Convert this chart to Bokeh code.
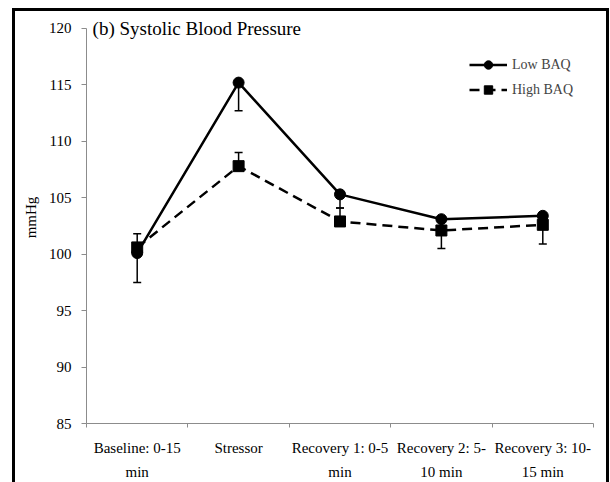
from bokeh.plotting import figure
from bokeh.models import (Range1d, FixedTicker, Whisker, TeeHead, ColumnDataSource,
                          Legend, LegendItem, Label)
from bokeh.embed import file_html
from bokeh.resources import INLINE

# ---- data ----
categories = ["Baseline: 0-15\nmin", "Stressor", "Recovery 1: 0-5\nmin",
              "Recovery 2: 5-\n10 min", "Recovery 3: 10-\n15 min"]
low_baq = [100.1, 115.2, 105.3, 103.1, 103.4]
low_err_minus = [2.6, 2.5, 1.2, 2.6, 2.5]
high_baq = [100.6, 107.8, 102.9, 102.1, 102.6]
high_err_plus = [1.2, 1.2, 1.2, 1.2, 1.0]
y_ticks = [85, 90, 95, 100, 105, 110, 115, 120]
title_text = "(b) Systolic Blood Pressure"
y_label = "mmHg"
series_names = ["Low BAQ", "High BAQ"]

FONT = "Liberation Serif"

xs = [i + 0.5 for i in range(len(categories))]
boundaries = list(range(len(categories) + 1))

p = figure(width=610, height=482, output_backend="svg", toolbar_location=None,
           x_range=Range1d(0, len(categories)), y_range=Range1d(y_ticks[0], y_ticks[-1] + 1.5),
           min_border_left=86, min_border_right=17, min_border_top=11, min_border_bottom=59)
p.outline_line_color = None
p.xgrid.grid_line_color = None
p.ygrid.grid_line_color = None
p.background_fill_color = "white"
p.border_fill_color = None
# outer black frame (left, top, right) painted behind the transparent canvas
p.styles = {"box-shadow": "inset 12px 8px 0 0 white, inset -1px 0 0 0 white, "
                          "inset 15px 11px 0 0 black, inset -4px 0 0 0 black"}

axis_gray = "#8c8c8c"
# y axis
p.yaxis.ticker = FixedTicker(ticks=y_ticks, minor_ticks=[])
p.yaxis.bounds = (y_ticks[0], y_ticks[-1])
p.yaxis.axis_line_color = axis_gray
p.yaxis.major_tick_line_color = axis_gray
p.yaxis.major_tick_out = 5
p.yaxis.major_tick_in = 0
p.yaxis.minor_tick_line_color = None
p.yaxis.major_label_text_font = FONT
p.yaxis.major_label_text_font_size = "15px"
p.yaxis.major_label_text_color = "black"
p.yaxis.major_label_standoff = 10
p.yaxis.axis_label = y_label
p.yaxis.axis_label_text_font = FONT
p.yaxis.axis_label_text_font_style = "normal"
p.yaxis.axis_label_text_font_size = "15px"
p.yaxis.axis_label_text_color = "black"
p.yaxis.axis_label_standoff = 7

# x axis
p.xaxis.ticker = FixedTicker(ticks=xs, minor_ticks=boundaries)
p.xaxis.major_label_overrides = {x: c for x, c in zip(xs, categories)}
p.xaxis.axis_line_color = axis_gray
p.xaxis.major_tick_line_color = None
p.xaxis.minor_tick_line_color = axis_gray
p.xaxis.minor_tick_out = 4
p.xaxis.minor_tick_in = 0
p.xaxis.major_label_text_font = FONT
p.xaxis.major_label_text_font_size = "15px"
p.xaxis.major_label_text_color = "black"
p.xaxis.major_label_text_line_height = 1.5
p.xaxis.major_label_standoff = 10

# error bars
src_low = ColumnDataSource(dict(x=xs, y=low_baq,
                                lo=[v - e for v, e in zip(low_baq, low_err_minus)]))
src_high = ColumnDataSource(dict(x=xs, y=high_baq,
                                 hi=[v + e for v, e in zip(high_baq, high_err_plus)]))
w1 = Whisker(source=src_low, base="x", lower="lo", upper="y",
             lower_head=TeeHead(size=8, line_color="black", line_width=1.5), upper_head=None,
             line_color="black", line_width=1.5)
w2 = Whisker(source=src_high, base="x", lower="y", upper="hi",
             upper_head=TeeHead(size=8, line_color="black", line_width=1.5), lower_head=None,
             line_color="black", line_width=1.5)
p.add_layout(w1)
p.add_layout(w2)

# lines
l_high = p.line("x", "y", source=src_high, line_color="black", line_width=2.5, line_dash="10 6")
m_high = p.scatter("x", "y", source=src_high, marker="square", size=11,
                   fill_color="black", line_color="black")
l_low = p.line("x", "y", source=src_low, line_color="black", line_width=2.5)
m_low = p.scatter("x", "y", source=src_low, marker="circle", size=11,
                  fill_color="black", line_color="black")

legend = Legend(items=[LegendItem(label=series_names[0], renderers=[l_low, m_low]),
                       LegendItem(label=series_names[1], renderers=[l_high, m_high])],
                location=(383, 323), border_line_color=None, background_fill_alpha=0,
                glyph_width=38, glyph_height=21, label_height=21, spacing=4, padding=4,
                label_text_font=FONT, label_text_font_size="14px", label_standoff=5)
p.add_layout(legend)

p.add_layout(Label(x=0.06, y=y_ticks[-1], text=title_text, text_font=FONT,
                   text_font_size="19px", text_baseline="middle", text_color="black"))

open("out.html", "w").write(file_html(p, INLINE))
